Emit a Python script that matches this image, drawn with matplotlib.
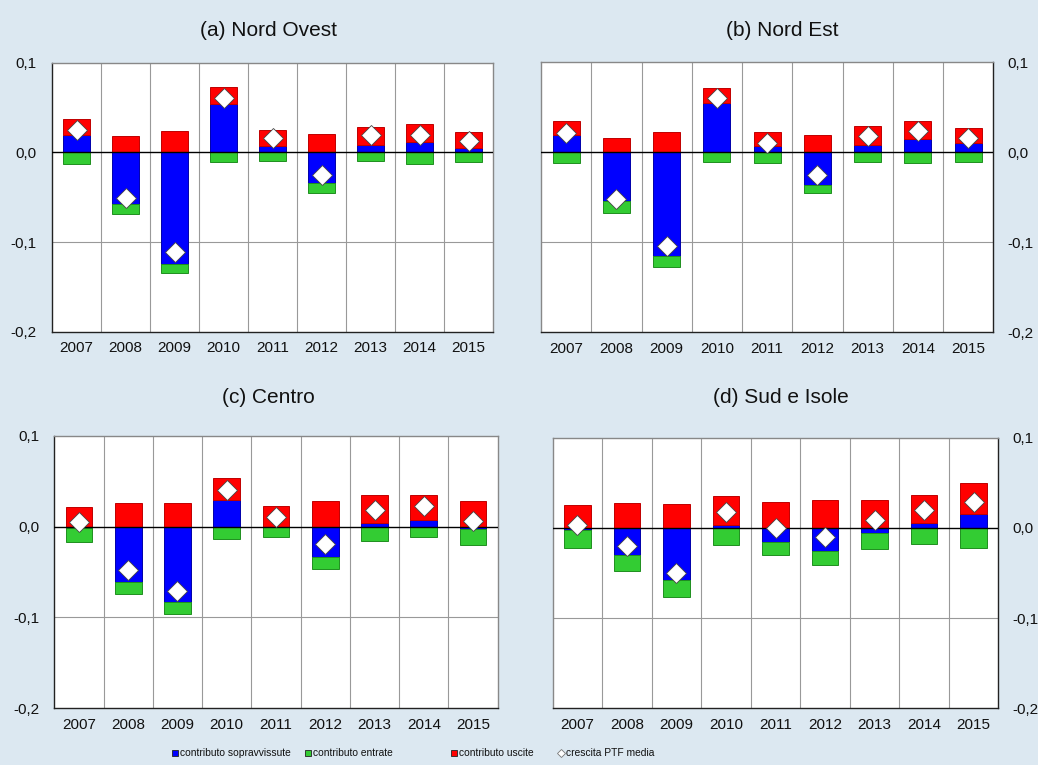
import numpy as np
import matplotlib
matplotlib.use("Agg")
import matplotlib.pyplot as plt
from matplotlib.lines import Line2D

plt.rcParams["font.family"] = ["Liberation Sans", "DejaVu Sans"]

years = ["2007", "2008", "2009", "2010", "2011", "2012", "2013", "2014", "2015"]

# (a) Nord Ovest
no_sopr = [0.019, -0.058, -0.125, 0.054, 0.0074, -0.034, 0.0078, 0.012, 0.0052]
no_entr = [-0.013, -0.011, -0.010, -0.011, -0.0097, -0.0115, -0.0097, -0.013, -0.0108]
no_usc = [0.018, 0.018, 0.024, 0.0185, 0.0175, 0.020, 0.021, 0.020, 0.0178]
no_ptf = [0.0245, -0.0506, -0.1115, 0.061, 0.0156, -0.0253, 0.0193, 0.0193, 0.0126]

# (b) Nord Est
ne_sopr = [0.0193, -0.054, -0.1156, 0.0552, 0.007, -0.0359, 0.0085, 0.0152, 0.0104]
ne_entr = [-0.0122, -0.0137, -0.0115, -0.0111, -0.0119, -0.0089, -0.0107, -0.0119, -0.0107]
ne_usc = [0.0151, 0.0156, 0.023, 0.0167, 0.0156, 0.0193, 0.0204, 0.0192, 0.0163]
ne_ptf = [0.0219, -0.0515, -0.1037, 0.0607, 0.0107, -0.0252, 0.0181, 0.0237, 0.0163]

# (c) Centro
ce_sopr = [-0.0015, -0.0606, -0.0834, 0.0294, -0.001, -0.0334, 0.004, 0.007, -0.0029]
ce_entr = [-0.015, -0.0132, -0.0124, -0.0132, -0.0108, -0.0136, -0.0154, -0.011, -0.0169]
ce_usc = [0.022, 0.0264, 0.0264, 0.0238, 0.0231, 0.0279, 0.0302, 0.0272, 0.0279]
ce_ptf = [0.0051, -0.0474, -0.0705, 0.040, 0.0107, -0.0195, 0.0187, 0.0231, 0.0062]

# (d) Sud e Isole
si_sopr = [-0.0018, -0.0295, -0.0583, 0.0033, -0.0155, -0.0251, -0.0052, 0.0052, 0.0155]
si_entr = [-0.021, -0.0185, -0.0185, -0.0185, -0.0148, -0.0159, -0.0177, -0.0177, -0.0218]
si_usc = [0.0255, 0.028, 0.0266, 0.0321, 0.0292, 0.031, 0.031, 0.0313, 0.0347]
si_ptf = [0.0033, -0.0196, -0.0502, 0.018, 0.0, -0.0096, 0.0089, 0.0199, 0.0288]

BG = "#dce8f1"
BLUE, GREEN, RED = "#0000ff", "#33cc33", "#ff0000"
EDGES = {BLUE: "#0000aa", GREEN: "#1f8f1f", RED: "#c00000"}

# title, data..., axes box in pixels (x0, y0, x1, y1), y-axis side, title centre (x, y)
panels = [
    ("(a) Nord Ovest", no_sopr, no_entr, no_usc, no_ptf, [52, 62.7, 493, 331.7], "left", (268, 30)),
    ("(b) Nord Est", ne_sopr, ne_entr, ne_usc, ne_ptf, [541, 62.3, 993.3, 332.3], "right", (782, 30)),
    ("(c) Centro", ce_sopr, ce_entr, ce_usc, ce_ptf, [54.3, 435.7, 497.7, 708.3], "left", (268, 397)),
    ("(d) Sud e Isole", si_sopr, si_entr, si_usc, si_ptf, [552.7, 437.7, 998.3, 708.3], "right", (781, 397)),
]

W, H = 1038, 765
fig = plt.figure(figsize=(W / 100, H / 100), dpi=100, facecolor=BG)


def fmt(v):
    return f"{v:.1f}".replace(".", ",")


for title, sopr, entr, usc, ptf, box, side, tpos in panels:
    x0, y0, x1, y1 = box
    ax = fig.add_axes([x0 / W, 1 - y1 / H, (x1 - x0) / W, (y1 - y0) / H])
    ax.set_facecolor("white")
    x = np.arange(len(years))
    pos = np.zeros(len(years))
    neg = np.zeros(len(years))
    for vals, col in ((sopr, BLUE), (entr, GREEN), (usc, RED)):
        v = np.asarray(vals, dtype=float)
        bottom = np.where(v >= 0, pos, neg)
        ax.bar(x, v, bottom=bottom, width=0.54, color=col,
               edgecolor=EDGES[col], linewidth=0.7, zorder=3)
        pos = pos + np.where(v >= 0, v, 0)
        neg = neg + np.where(v < 0, v, 0)
    ax.plot(x, ptf, ls="none", marker="D", ms=10.5, mfc="white", mec="#444444",
            mew=0.6, zorder=5)

    ax.set_xlim(-0.5, len(years) - 0.5)
    ax.set_ylim(-0.2, 0.1)
    ax.set_yticks([-0.2, -0.1, 0.0, 0.1])
    ax.set_yticklabels([fmt(t) for t in [-0.2, -0.1, 0.0, 0.1]])
    ax.set_xticks(x)
    ax.set_xticklabels(years)
    for xv in np.arange(0.5, len(years) - 0.5, 1.0):
        ax.axvline(xv, color="#999999", lw=0.8, zorder=1)
    ax.axhline(-0.1, color="#999999", lw=0.8, zorder=1)
    ax.axhline(0.0, color="black", lw=1.0, zorder=4)

    ax.tick_params(axis="both", length=0, labelsize=11, colors="#111111")
    ax.tick_params(axis="x", pad=7)
    if side == "right":
        ax.yaxis.tick_right()
        ax.tick_params(axis="y", pad=10)
    else:
        ax.tick_params(axis="y", pad=11)
    for name, sp in ax.spines.items():
        sp.set_color("#888888")
        sp.set_linewidth(1.0)
    ax.spines["bottom"].set_color("#222222")
    ax.spines[side].set_color("#222222")

    fig.text(tpos[0] / W, 1 - tpos[1] / H, title, ha="center", va="center",
             fontsize=15, color="#111111")

# legend row along the bottom
legend_items = [
    (175, "s", BLUE, "#222222", "contributo sopravvissute"),
    (308, "s", GREEN, "#222222", "contributo entrate"),
    (454, "s", RED, "#222222", "contributo uscite"),
    (560.5, "D", "white", "#777777", "crescita PTF media"),
]
ly = 1 - 752.5 / H
for lx, mk, fc, ec, label in legend_items:
    fig.add_artist(Line2D([lx / W], [ly], transform=fig.transFigure, ls="none",
                          marker=mk, ms=5 if mk == "s" else 4.5, mfc=fc, mec=ec, mew=0.6))
    fig.text((lx + 5) / W, ly, label, ha="left", va="center", fontsize=7.4,
             color="#111111")

fig.savefig("out.png", dpi=100, facecolor=BG)
